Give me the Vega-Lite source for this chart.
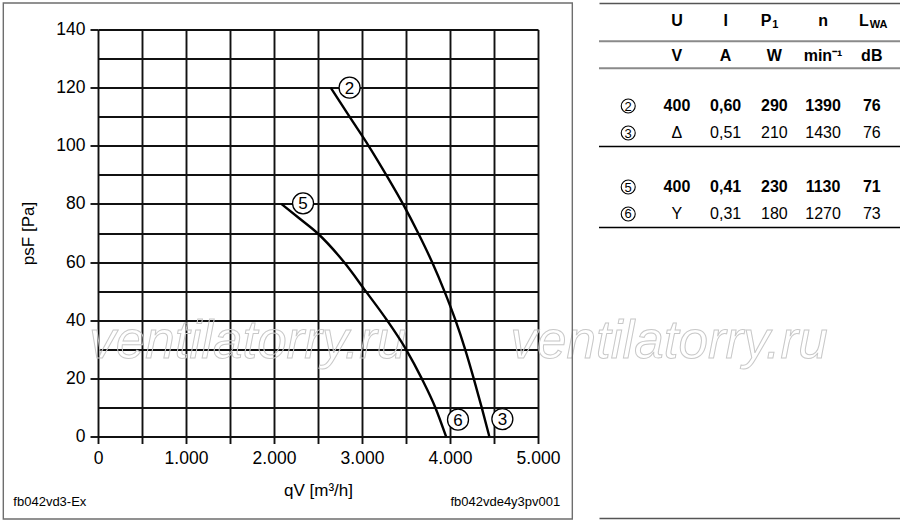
{
  "$schema": "https://vega.github.io/schema/vega-lite/v6.json",
  "padding": {"left": 2, "top": 2, "right": 0, "bottom": 2},
  "background": "#ffffff",
  "config": {
    "view": {"stroke": null},
    "font": "Liberation Sans",
    "axis": {
      "labelFont": "Liberation Sans",
      "labelFontSize": 17.5,
      "labelColor": "#000000",
      "titleFont": "Liberation Sans",
      "titleFontSize": 17,
      "titleFontWeight": "normal",
      "titleColor": "#000000",
      "gridColor": "#111111",
      "gridWidth": 1.9,
      "gridOpacity": 1,
      "tickColor": "#111111",
      "tickWidth": 1.9
    }
  },
  "datasets": {
    "curves": [
      {"curve": "2-3", "q": 2644, "p": 120},
      {"curve": "2-3", "q": 2858, "p": 110},
      {"curve": "2-3", "q": 3075, "p": 100},
      {"curve": "2-3", "q": 3275, "p": 90},
      {"curve": "2-3", "q": 3465, "p": 80},
      {"curve": "2-3", "q": 3638, "p": 70},
      {"curve": "2-3", "q": 3796, "p": 60},
      {"curve": "2-3", "q": 3936, "p": 50},
      {"curve": "2-3", "q": 4062, "p": 40},
      {"curve": "2-3", "q": 4172, "p": 30},
      {"curve": "2-3", "q": 4269, "p": 20},
      {"curve": "2-3", "q": 4360, "p": 10},
      {"curve": "2-3", "q": 4447, "p": 0},
      {"curve": "5-6", "q": 2083, "p": 80},
      {"curve": "5-6", "q": 2290, "p": 75},
      {"curve": "5-6", "q": 2492, "p": 70},
      {"curve": "5-6", "q": 2795, "p": 60},
      {"curve": "5-6", "q": 3042, "p": 50},
      {"curve": "5-6", "q": 3284, "p": 40},
      {"curve": "5-6", "q": 3500, "p": 30},
      {"curve": "5-6", "q": 3678, "p": 20},
      {"curve": "5-6", "q": 3833, "p": 10},
      {"curve": "5-6", "q": 3955, "p": 0}
    ],
    "labels": [
      {"n": "2", "q": 2859, "p": 120},
      {"n": "3", "q": 4595, "p": 6},
      {"n": "5", "q": 2330, "p": 80.2},
      {"n": "6", "q": 4091, "p": 5.8}
    ],
    "table": [
      {"row": "h1", "col": "U", "text": "U"},
      {"row": "h1", "col": "I", "text": "I"},
      {"row": "h1", "col": "P", "text": "P", "sub": "1"},
      {"row": "h1", "col": "n", "text": "n"},
      {"row": "h1", "col": "L", "text": "L", "sub": "WA"},
      {"row": "h2", "col": "U", "text": "V"},
      {"row": "h2", "col": "I", "text": "A"},
      {"row": "h2", "col": "P", "text": "W"},
      {"row": "h2", "col": "n", "text": "min⁻¹"},
      {"row": "h2", "col": "L", "text": "dB"},
      {"row": "r2", "col": "c", "text": "2"},
      {"row": "r2", "col": "U", "text": "400"},
      {"row": "r2", "col": "I", "text": "0,60"},
      {"row": "r2", "col": "P", "text": "290"},
      {"row": "r2", "col": "n", "text": "1390"},
      {"row": "r2", "col": "L", "text": "76"},
      {"row": "r3", "col": "c", "text": "3"},
      {"row": "r3", "col": "U", "text": "Δ"},
      {"row": "r3", "col": "I", "text": "0,51"},
      {"row": "r3", "col": "P", "text": "210"},
      {"row": "r3", "col": "n", "text": "1430"},
      {"row": "r3", "col": "L", "text": "76"},
      {"row": "r5", "col": "c", "text": "5"},
      {"row": "r5", "col": "U", "text": "400"},
      {"row": "r5", "col": "I", "text": "0,41"},
      {"row": "r5", "col": "P", "text": "230"},
      {"row": "r5", "col": "n", "text": "1130"},
      {"row": "r5", "col": "L", "text": "71"},
      {"row": "r6", "col": "c", "text": "6"},
      {"row": "r6", "col": "U", "text": "Y"},
      {"row": "r6", "col": "I", "text": "0,31"},
      {"row": "r6", "col": "P", "text": "180"},
      {"row": "r6", "col": "n", "text": "1270"},
      {"row": "r6", "col": "L", "text": "73"}
    ],
    "lines": [
      {"row": "h2", "kind": "header"},
      {"row": "g1", "kind": "header"},
      {"row": "g2", "kind": "group"},
      {"row": "g3", "kind": "group"}
    ]
  },
  "bounds": "flush",
  "center": true,
  "spacing": 61,
  "hconcat": [
    {
      "width": 440,
      "height": 407,
      "resolve": {"axis": {"x": "independent", "y": "independent"}},
      "layer": [
        {
          "data": {"values": [{}]},
          "mark": {"type": "text", "text": "ventilatorry.ru", "font": "Liberation Sans", "fontStyle": "italic", "fontSize": 53, "align": "center", "baseline": "alphabetic", "fillOpacity": 0, "stroke": "#c8c8c8", "strokeWidth": 1},
          "encoding": {
            "x": {"datum": 1702, "type": "quantitative", "axis": null},
            "y": {"datum": 27, "type": "quantitative", "axis": null}
          }
        },
        {
          "data": {"values": [{}]},
          "mark": {"type": "text", "text": "ventilatorry.ru", "font": "Liberation Sans", "fontStyle": "italic", "fontSize": 53, "align": "center", "baseline": "alphabetic", "fillOpacity": 0, "stroke": "#c8c8c8", "strokeWidth": 1},
          "encoding": {
            "x": {"datum": 6490, "type": "quantitative", "axis": null},
            "y": {"datum": 27, "type": "quantitative", "axis": null}
          }
        },
        {
          "data": {"values": [{}]},
          "mark": {"type": "rect", "fill": "#ffffff", "fillOpacity": 0, "stroke": "#6e6e6e", "strokeWidth": 1.4},
          "encoding": {
            "x": {"datum": -1076, "type": "quantitative", "axis": null},
            "x2": {"datum": 5390},
            "y": {"datum": 149.1, "type": "quantitative", "axis": null},
            "y2": {"datum": -28.4}
          }
        },
        {
          "data": {"name": "curves"},
          "mark": {"type": "line", "color": "#000000", "strokeWidth": 2.4, "interpolate": "monotone"},
          "encoding": {
            "x": {
              "field": "q",
              "type": "quantitative",
              "scale": {"domain": [0, 5000], "nice": false, "zero": false},
              "axis": {
                "values": [0, 500, 1000, 1500, 2000, 2500, 3000, 3500, 4000, 4500, 5000],
                "labelExpr": "datum.value % 1000 == 0 ? replace(format(datum.value, ','), ',', '.') : ''",
                "title": "qV [m³/h]",
                "grid": true,
                "domain": false,
                "tickSize": 7,
                "labelFlush": false,
                "labelOverlap": false,
                "labelPadding": 6,
                "titlePadding": 15
              }
            },
            "y": {
              "field": "p",
              "type": "quantitative",
              "scale": {"domain": [0, 140], "nice": false, "zero": false},
              "axis": {
                "values": [0, 10, 20, 30, 40, 50, 60, 70, 80, 90, 100, 110, 120, 130, 140],
                "labelExpr": "datum.value % 20 == 0 ? datum.label : ''",
                "tickOpacity": {"condition": {"test": "datum.value % 20 != 0", "value": 0}, "value": 1},
                "title": "psF [Pa]",
                "grid": true,
                "domain": false,
                "tickSize": 8,
                "labelFlush": false,
                "labelOverlap": false,
                "labelPadding": 5,
                "titlePadding": 18
              }
            },
            "detail": {"field": "curve"}
          }
        },
        {
          "data": {"name": "labels"},
          "mark": {"type": "point", "shape": "circle", "filled": true, "fill": "#ffffff", "stroke": "#000000", "strokeWidth": 1.3, "size": 441, "opacity": 1},
          "encoding": {
            "x": {"field": "q", "type": "quantitative", "axis": null},
            "y": {"field": "p", "type": "quantitative", "axis": null}
          }
        },
        {
          "data": {"name": "labels"},
          "mark": {"type": "text", "font": "Liberation Sans", "fontSize": 17, "align": "center", "baseline": "middle", "dy": 1, "color": "#000000"},
          "encoding": {
            "x": {"field": "q", "type": "quantitative", "axis": null},
            "y": {"field": "p", "type": "quantitative", "axis": null},
            "text": {"field": "n"}
          }
        },
        {
          "data": {"values": [{}]},
          "mark": {"type": "text", "text": "fb042vd3-Ex", "font": "Liberation Sans", "fontSize": 13, "align": "left", "baseline": "middle", "color": "#000000"},
          "encoding": {
            "x": {"datum": -962, "type": "quantitative", "axis": null},
            "y": {"datum": -22.5, "type": "quantitative", "axis": null}
          }
        },
        {
          "data": {"values": [{}]},
          "mark": {"type": "text", "text": "fb042vde4y3pv001", "font": "Liberation Sans", "fontSize": 13, "align": "right", "baseline": "middle", "color": "#000000"},
          "encoding": {
            "x": {"datum": 5253, "type": "quantitative", "axis": null},
            "y": {"datum": -22.5, "type": "quantitative", "axis": null}
          }
        }
      ]
    },
    {
      "width": 302,
      "height": 460,
      "data": {"name": "table"},
      "resolve": {"axis": {"x": "independent"}},
      "layer": [
        {
          "data": {"name": "lines"},
          "transform": [{"filter": "datum.kind == 'header'"}],
          "mark": {"type": "rule", "color": "#8a8a8a", "strokeWidth": 2},
          "encoding": {
            "y": {"field": "row", "type": "nominal", "bandPosition": 0.1, "scale": {"type": "band", "domain": ["h1", "h2", "g1", "r2", "r3", "g2", "r5", "r6", "g3", "e1", "e2", "e3", "e4", "e5", "e6", "e7"], "paddingInner": 0, "paddingOuter": 0.52, "align": 0.304}, "axis": null}
          }
        },
        {
          "data": {"name": "lines"},
          "transform": [{"filter": "datum.kind == 'group'"}],
          "mark": {"type": "rule", "color": "#000000", "strokeWidth": 1.4},
          "encoding": {
            "y": {"field": "row", "type": "nominal", "bandPosition": 0, "axis": null}
          }
        },
        {
          "transform": [{"filter": "datum.row == 'h1' && !datum.sub"}],
          "mark": {"type": "text", "font": "Liberation Sans", "fontSize": 16, "fontWeight": "bold", "align": "center", "baseline": "middle", "dy": -4, "color": "#000000"},
          "encoding": {
            "x": {
              "field": "col",
              "type": "nominal",
              "scale": {"type": "point", "domain": ["c", "U", "I", "P", "n", "L"], "padding": 0.6},
              "axis": {"orient": "top", "domain": true, "domainColor": "#555555", "domainWidth": 1.5, "ticks": false, "labels": false, "grid": false, "title": null}
            },
            "y": {"field": "row", "type": "nominal", "axis": null},
            "text": {"field": "text"}
          }
        },
        {
          "transform": [{"filter": "datum.row == 'h1' && datum.sub"}],
          "mark": {"type": "text", "font": "Liberation Sans", "fontSize": 16, "fontWeight": "bold", "align": "right", "baseline": "middle", "dx": -3, "dy": -4, "color": "#000000"},
          "encoding": {
            "x": {"field": "col", "type": "nominal", "axis": null},
            "y": {"field": "row", "type": "nominal", "axis": null},
            "text": {"field": "text"}
          }
        },
        {
          "transform": [{"filter": "datum.row == 'h1' && datum.sub"}],
          "mark": {"type": "text", "font": "Liberation Sans", "fontSize": 11, "fontWeight": "bold", "align": "left", "baseline": "middle", "dx": -2, "dy": 0, "color": "#000000"},
          "encoding": {
            "x": {"field": "col", "type": "nominal", "axis": null},
            "y": {"field": "row", "type": "nominal", "axis": null},
            "text": {"field": "sub"}
          }
        },
        {
          "transform": [{"filter": "datum.row == 'h2'"}],
          "mark": {"type": "text", "font": "Liberation Sans", "fontSize": 16, "fontWeight": "bold", "align": "center", "baseline": "middle", "dy": 4, "color": "#000000"},
          "encoding": {
            "x": {"field": "col", "type": "nominal", "axis": null},
            "y": {"field": "row", "type": "nominal", "axis": null},
            "text": {"field": "text"}
          }
        },
        {
          "transform": [{"filter": "(datum.row == 'r2' || datum.row == 'r5') && datum.col != 'c'"}],
          "mark": {"type": "text", "font": "Liberation Sans", "fontSize": 16, "fontWeight": "bold", "align": "center", "baseline": "middle", "color": "#000000"},
          "encoding": {
            "x": {"field": "col", "type": "nominal", "axis": null},
            "y": {"field": "row", "type": "nominal", "axis": null},
            "text": {"field": "text"}
          }
        },
        {
          "transform": [{"filter": "(datum.row == 'r3' || datum.row == 'r6') && datum.col != 'c'"}],
          "mark": {"type": "text", "font": "Liberation Sans", "fontSize": 16, "align": "center", "baseline": "middle", "color": "#000000"},
          "encoding": {
            "x": {
              "field": "col",
              "type": "nominal",
              "axis": {"orient": "bottom", "offset": 55, "domain": true, "domainColor": "#555555", "domainWidth": 1.5, "ticks": false, "labels": false, "grid": false, "title": null}
            },
            "y": {"field": "row", "type": "nominal", "axis": null},
            "text": {"field": "text"}
          }
        },
        {
          "transform": [{"filter": "datum.col == 'c'"}],
          "mark": {"type": "point", "shape": "circle", "filled": true, "fill": "#ffffff", "stroke": "#000000", "strokeWidth": 1.1, "size": 196, "opacity": 1},
          "encoding": {
            "x": {"field": "col", "type": "nominal", "axis": null},
            "y": {"field": "row", "type": "nominal", "axis": null}
          }
        },
        {
          "transform": [{"filter": "datum.col == 'c'"}],
          "mark": {"type": "text", "font": "Liberation Sans", "fontSize": 13, "align": "center", "baseline": "middle", "dy": 0.5, "color": "#000000"},
          "encoding": {
            "x": {"field": "col", "type": "nominal", "axis": null},
            "y": {"field": "row", "type": "nominal", "axis": null},
            "text": {"field": "text"}
          }
        }
      ]
    }
  ]
}
